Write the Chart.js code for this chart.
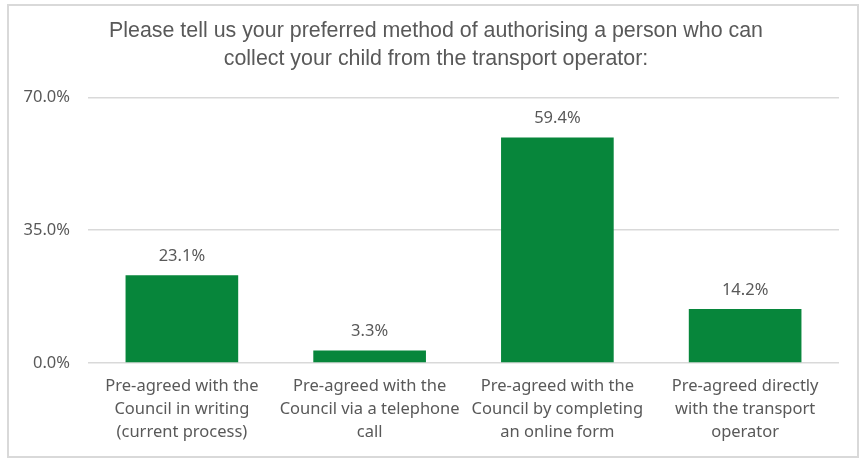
<!DOCTYPE html>
<html>
<head>
<meta charset="utf-8">
<script src="https://cdn.jsdelivr.net/npm/chart.js@4.4.0/dist/chart.umd.min.js"></script>
<style>
  html, body { margin: 0; padding: 0; background: #fff; }
  #wrap { position: relative; width: 862px; height: 461px; }
  #frame {
    position: absolute; left: 7px; top: 4px; width: 852px; height: 454px;
    border: 2px solid #d9d9d9; box-sizing: border-box; pointer-events: none;
  }
  canvas { position: absolute; left: 0; top: 0; }
</style>
</head>
<body>
<div id="wrap">
  <canvas id="chart" width="862" height="461"></canvas>
  <div id="frame"></div>
</div>
<script>
// Datos
const titleLines = [
    'Please tell us your preferred method of authorising a person who can',
    'collect your child from the transport operator:'
];
const categories = [
    ['Pre-agreed with the', 'Council in writing', '(current process)'],
    ['Pre-agreed with the', 'Council via a telephone', 'call'],
    ['Pre-agreed with the', 'Council by completing', 'an online form'],
    ['Pre-agreed directly', 'with the transport', 'operator']
];
const values = [23.1, 3.3, 59.4, 14.2];
const yTicks = [0, 35, 70];

const textColor = '#595959';
const barColor = '#07863b';

// Etiquetas encima de cada barra
const barLabels = {
    id: 'barLabels',
    afterDatasetsDraw(chart) {
        const ctx = chart.ctx;
        const meta = chart.getDatasetMeta(0);
        ctx.save();
        ctx.font = '16.5px "Noto Sans"';
        ctx.fillStyle = textColor;
        ctx.textAlign = 'center';
        ctx.textBaseline = 'middle';
        meta.data.forEach((bar, i) => {
            ctx.fillText(values[i].toFixed(1) + '%', bar.x, bar.y - 19);
        });
        ctx.restore();
    }
};

new Chart(document.getElementById('chart'), {
    type: 'bar',
    data: {
        labels: categories,
        datasets: [{
            data: values,
            backgroundColor: barColor,
            borderWidth: 0,
            categoryPercentage: 0.6,
            barPercentage: 1.0
        }]
    },
    options: {
        responsive: false,
        animation: false,
        layout: { padding: { left: 10, right: 0, top: 0, bottom: 0 } },
        plugins: {
            legend: { display: false },
            tooltip: { enabled: false },
            title: {
                display: true,
                text: titleLines,
                color: textColor,
                font: { family: '"Liberation Sans", Arial', size: 21.4, weight: 'normal', lineHeight: 1.27 },
                padding: { top: 18, bottom: 25 }
            }
        },
        scales: {
            x: {
                grid: { display: false, drawTicks: false },
                border: { display: false },
                ticks: {
                    color: textColor,
                    font: { family: '"Noto Sans"', size: 16.5, lineHeight: 1.4 },
                    padding: 12,
                    maxRotation: 0,
                    autoSkip: false
                },
                afterFit(scale) { scale.height = 98; }
            },
            y: {
                min: 0,
                max: 70,
                afterBuildTicks(scale) { scale.ticks = yTicks.map(v => ({ value: v })); },
                grid: { color: '#d9d9d9', lineWidth: 1.5, drawTicks: false },
                border: { display: false },
                ticks: {
                    color: textColor,
                    font: { family: '"Noto Sans"', size: 16.5 },
                    padding: 18,
                    callback: v => v.toFixed(1) + '%'
                },
                afterFit(scale) { scale.width = 78; }
            },
            // eje vacío a la derecha, solo para dejar el margen
            yRight: {
                position: 'right',
                min: 0,
                max: 70,
                grid: { display: false, drawTicks: false },
                border: { display: false },
                ticks: { display: false },
                afterFit(scale) { scale.width = 23; }
            }
        }
    },
    plugins: [barLabels]
});
</script>
</body>
</html>
